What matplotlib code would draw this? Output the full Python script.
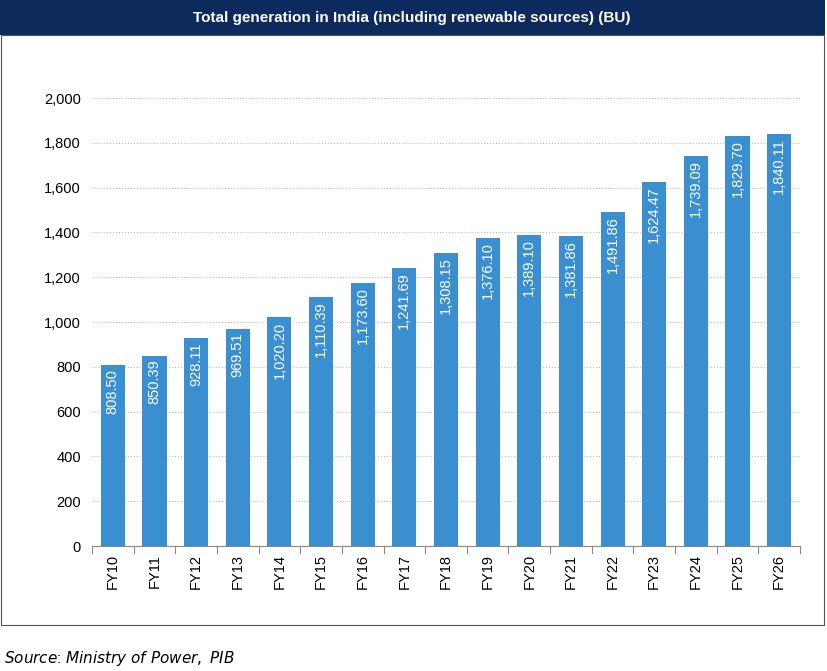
import matplotlib.pyplot as plt
from matplotlib.patches import Rectangle

years = ["FY10", "FY11", "FY12", "FY13", "FY14", "FY15", "FY16", "FY17", "FY18",
         "FY19", "FY20", "FY21", "FY22", "FY23", "FY24", "FY25", "FY26"]
generation = [808.50, 850.39, 928.11, 969.51, 1020.20, 1110.39, 1173.60, 1241.69,
              1308.15, 1376.10, 1389.10, 1381.86, 1491.86, 1624.47, 1739.09,
              1829.70, 1840.11]

plt.rcParams['font.family'] = ['Liberation Sans', 'DejaVu Sans']

W, H = 828, 671
fig = plt.figure(figsize=(W / 100, H / 100), dpi=100)

# title bar and frame
fig.patches.append(Rectangle((0, 1 - 35 / H), 825 / W, 35 / H, transform=fig.transFigure,
                             facecolor='#0d2a5c', edgecolor='none'))
fig.patches.append(Rectangle((1 / W, 1 - 625 / H), 823 / W, 590 / H, transform=fig.transFigure,
                             facecolor='none', edgecolor='#555555', linewidth=0.8))
fig.text(412 / W, 1 - 18 / H, "Total generation in India (including renewable sources) (BU)",
         ha='center', va='center', color='white', fontsize=11, fontweight='bold')

ax = fig.add_axes([92 / W, 1 - 546 / H, 708 / W, 448 / H])
x = range(len(years))
ax.bar(x, generation, width=0.58, color='#3a8fd0', zorder=2)
for i, v in zip(x, generation):
    ax.text(i, v - 18, f"{v:,.2f}", rotation=90, ha='center', va='top',
            color='white', fontsize=10.5, zorder=3)

ax.set_ylim(0, 2000)
ax.set_xlim(-0.5, len(years) - 0.5)
ax.set_yticks(range(0, 2001, 200))
ax.set_yticklabels([f"{t:,}" for t in range(0, 2001, 200)], fontsize=10.5)
ax.set_xticks(list(x))
ax.set_xticklabels(years, rotation=90, fontsize=10.5)
ax.yaxis.grid(True, linestyle=':', color='#bbbbbb', linewidth=0.8, zorder=0)
for s in ['top', 'right', 'left']:
    ax.spines[s].set_visible(False)
ax.spines['bottom'].set_color('#888888')
ax.tick_params(axis='y', length=0, pad=8)
ax.tick_params(axis='x', length=0, pad=6)
# separator ticks between categories
for b in [i - 0.5 for i in range(len(years) + 1)]:
    ax.plot([b, b], [0, -30], color='#888888', linewidth=0.8, clip_on=False)

fig.text(4 / W, 1 - 658 / H, r"$\bf{\it{Source}}$: $\it{Ministry\ of\ Power,\ PIB}$",
         ha='left', va='center', fontsize=11)

fig.savefig("out.png", dpi=100)
